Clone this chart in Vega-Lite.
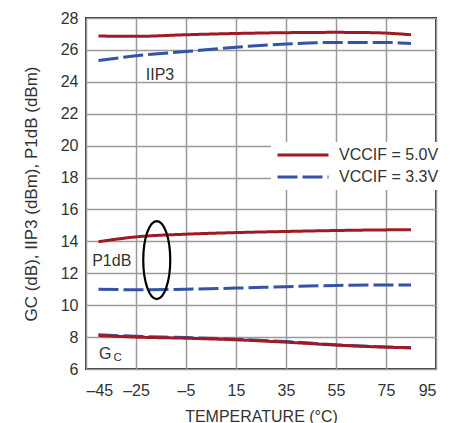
{
  "$schema": "https://vega.github.io/schema/vega-lite/v6.json",
  "width": 350,
  "height": 351,
  "autosize": {"type": "none"},
  "padding": {"left": 86, "top": 18, "right": 16, "bottom": 54},
  "background": "white",
  "config": {
    "font": "Liberation Sans",
    "view": {"stroke": "#333333", "strokeWidth": 2},
    "axis": {
      "gridColor": "#9a9a9a",
      "gridWidth": 1.5,
      "gridOpacity": 1,
      "domain": false,
      "ticks": false,
      "labelOverlap": false,
      "labelFont": "Liberation Sans",
      "labelFontSize": 16,
      "labelColor": "#333333",
      "titleFont": "Liberation Sans",
      "titleFontSize": 16,
      "titleFontWeight": "normal",
      "titleColor": "#333333"
    },
    "legend": {
      "labelFont": "Liberation Sans",
      "labelFontSize": 16,
      "labelColor": "#333333"
    }
  },
  "datasets": {
    "curves": [
      {"curve": "IIP3", "supply": "5.0V", "t": -40, "v": 26.87},
      {"curve": "IIP3", "supply": "5.0V", "t": -25, "v": 26.85},
      {"curve": "IIP3", "supply": "5.0V", "t": -5, "v": 26.95},
      {"curve": "IIP3", "supply": "5.0V", "t": 15, "v": 27.03},
      {"curve": "IIP3", "supply": "5.0V", "t": 35, "v": 27.08},
      {"curve": "IIP3", "supply": "5.0V", "t": 55, "v": 27.1},
      {"curve": "IIP3", "supply": "5.0V", "t": 70, "v": 27.08},
      {"curve": "IIP3", "supply": "5.0V", "t": 85, "v": 26.95},
      {"curve": "IIP3", "supply": "3.3V", "t": -40, "v": 25.33},
      {"curve": "IIP3", "supply": "3.3V", "t": -25, "v": 25.63},
      {"curve": "IIP3", "supply": "3.3V", "t": -5, "v": 25.9},
      {"curve": "IIP3", "supply": "3.3V", "t": 15, "v": 26.17},
      {"curve": "IIP3", "supply": "3.3V", "t": 35, "v": 26.37},
      {"curve": "IIP3", "supply": "3.3V", "t": 55, "v": 26.47},
      {"curve": "IIP3", "supply": "3.3V", "t": 75, "v": 26.47},
      {"curve": "IIP3", "supply": "3.3V", "t": 85, "v": 26.4},
      {"curve": "P1dB", "supply": "5.0V", "t": -40, "v": 13.98},
      {"curve": "P1dB", "supply": "5.0V", "t": -25, "v": 14.28},
      {"curve": "P1dB", "supply": "5.0V", "t": -5, "v": 14.45},
      {"curve": "P1dB", "supply": "5.0V", "t": 15, "v": 14.55},
      {"curve": "P1dB", "supply": "5.0V", "t": 35, "v": 14.62},
      {"curve": "P1dB", "supply": "5.0V", "t": 55, "v": 14.68},
      {"curve": "P1dB", "supply": "5.0V", "t": 75, "v": 14.72},
      {"curve": "P1dB", "supply": "5.0V", "t": 85, "v": 14.73},
      {"curve": "P1dB", "supply": "3.3V", "t": -40, "v": 11.0},
      {"curve": "P1dB", "supply": "3.3V", "t": -25, "v": 10.97},
      {"curve": "P1dB", "supply": "3.3V", "t": -5, "v": 11.0},
      {"curve": "P1dB", "supply": "3.3V", "t": 15, "v": 11.07},
      {"curve": "P1dB", "supply": "3.3V", "t": 35, "v": 11.16},
      {"curve": "P1dB", "supply": "3.3V", "t": 55, "v": 11.24},
      {"curve": "P1dB", "supply": "3.3V", "t": 75, "v": 11.27},
      {"curve": "P1dB", "supply": "3.3V", "t": 85, "v": 11.27},
      {"curve": "GC", "supply": "5.0V", "t": -40, "v": 8.1},
      {"curve": "GC", "supply": "5.0V", "t": -25, "v": 8.0},
      {"curve": "GC", "supply": "5.0V", "t": -5, "v": 7.93},
      {"curve": "GC", "supply": "5.0V", "t": 15, "v": 7.83},
      {"curve": "GC", "supply": "5.0V", "t": 35, "v": 7.68},
      {"curve": "GC", "supply": "5.0V", "t": 55, "v": 7.5},
      {"curve": "GC", "supply": "5.0V", "t": 75, "v": 7.37},
      {"curve": "GC", "supply": "5.0V", "t": 85, "v": 7.33},
      {"curve": "GC", "supply": "3.3V", "t": -40, "v": 8.14},
      {"curve": "GC", "supply": "3.3V", "t": -25, "v": 8.05},
      {"curve": "GC", "supply": "3.3V", "t": -5, "v": 7.97},
      {"curve": "GC", "supply": "3.3V", "t": 15, "v": 7.87},
      {"curve": "GC", "supply": "3.3V", "t": 35, "v": 7.72},
      {"curve": "GC", "supply": "3.3V", "t": 55, "v": 7.52},
      {"curve": "GC", "supply": "3.3V", "t": 75, "v": 7.38},
      {"curve": "GC", "supply": "3.3V", "t": 85, "v": 7.33}
    ],
    "labels": [
      {"t": -15.4, "v": 24.44, "text": "IIP3", "size": 16},
      {"t": -34.7, "v": 12.77, "text": "P1dB", "size": 16},
      {"t": -37.3, "v": 6.94, "text": "G", "size": 16},
      {"t": -32.3, "v": 6.66, "text": "C", "size": 11.5}
    ],
    "ellipse": [
      {"t": -16.7, "v": 12.83}
    ]
  },
  "layer": [
    {
      "data": {"name": "curves"},
      "transform": [{"filter": "datum.supply === '3.3V'"}],
      "mark": {"type": "line", "strokeWidth": 3, "interpolate": "monotone"},
      "encoding": {
        "x": {
          "field": "t", "type": "quantitative",
          "scale": {"domain": [-45, 95], "nice": false, "zero": false},
          "axis": {
            "values": [-45, -25, -5, 15, 35, 55, 75, 95],
            "tickCount": 20,
            "labelExpr": "datum.value < 0 ? '\u2013' + abs(datum.value) : '' + datum.value",
            "labelOverlap": false,
            "labelPadding": 13,
            "title": "TEMPERATURE (°C)",
            "titlePadding": 10
          }
        },
        "y": {
          "field": "v", "type": "quantitative",
          "scale": {"domain": [6, 28], "nice": false, "zero": false},
          "axis": {
            "values": [6, 8, 10, 12, 14, 16, 18, 20, 22, 24, 26, 28],
            "tickCount": 30,
            "labelOverlap": false,
            "labelFlush": false,
            "labelPadding": 8,
            "title": "GC (dB), IIP3 (dBm), P1dB (dBm)",
            "titleFontSize": 17,
            "titlePadding": 20
          }
        },
        "detail": {"field": "curve"},
        "color": {
          "field": "supply", "type": "nominal",
          "scale": {"domain": ["5.0V", "3.3V"], "range": ["#9e1b25", "#3553a6"]},
          "legend": {
            "title": null,
            "orient": "none",
            "legendX": 185,
            "legendY": 124,
            "symbolType": "stroke",
            "symbolSize": 2601,
            "symbolStrokeWidth": 3,
            "clipHeight": 16,
            "labelExpr": "'VCCIF = ' + datum.label",
            "fillColor": "white",
            "padding": 5,
            "rowPadding": 6,
            "labelOffset": 9
          }
        },
        "strokeDash": {
          "field": "supply", "type": "nominal",
          "scale": {"domain": ["5.0V", "3.3V"], "range": [[1, 0], [20, 5]]},
          "legend": null
        }
      }
    },
    {
      "data": {"name": "curves"},
      "transform": [{"filter": "datum.supply === '5.0V'"}],
      "mark": {"type": "line", "strokeWidth": 3, "interpolate": "monotone"},
      "encoding": {
        "x": {"field": "t", "type": "quantitative"},
        "y": {"field": "v", "type": "quantitative"},
        "detail": {"field": "curve"},
        "color": {"field": "supply", "type": "nominal"},
        "strokeDash": {"field": "supply", "type": "nominal"}
      }
    },
    {
      "data": {"name": "labels"},
      "mark": {"type": "text", "color": "#333333", "align": "center", "baseline": "middle", "font": "Liberation Sans"},
      "encoding": {
        "x": {"field": "t", "type": "quantitative"},
        "y": {"field": "v", "type": "quantitative"},
        "text": {"field": "text"},
        "size": {"field": "size", "type": "quantitative", "scale": null}
      }
    },
    {
      "data": {"name": "ellipse"},
      "mark": {
        "type": "point",
        "shape": "M0,-1C0.191,-1,0.346,-0.552,0.346,0C0.346,0.552,0.191,1,0,1C-0.191,1,-0.346,0.552,-0.346,0C-0.346,-0.552,-0.191,-1,0,-1Z",
        "size": 6084,
        "filled": false,
        "stroke": "black",
        "strokeWidth": 2.2,
        "opacity": 1
      },
      "encoding": {
        "x": {"field": "t", "type": "quantitative"},
        "y": {"field": "v", "type": "quantitative"}
      }
    }
  ]
}
